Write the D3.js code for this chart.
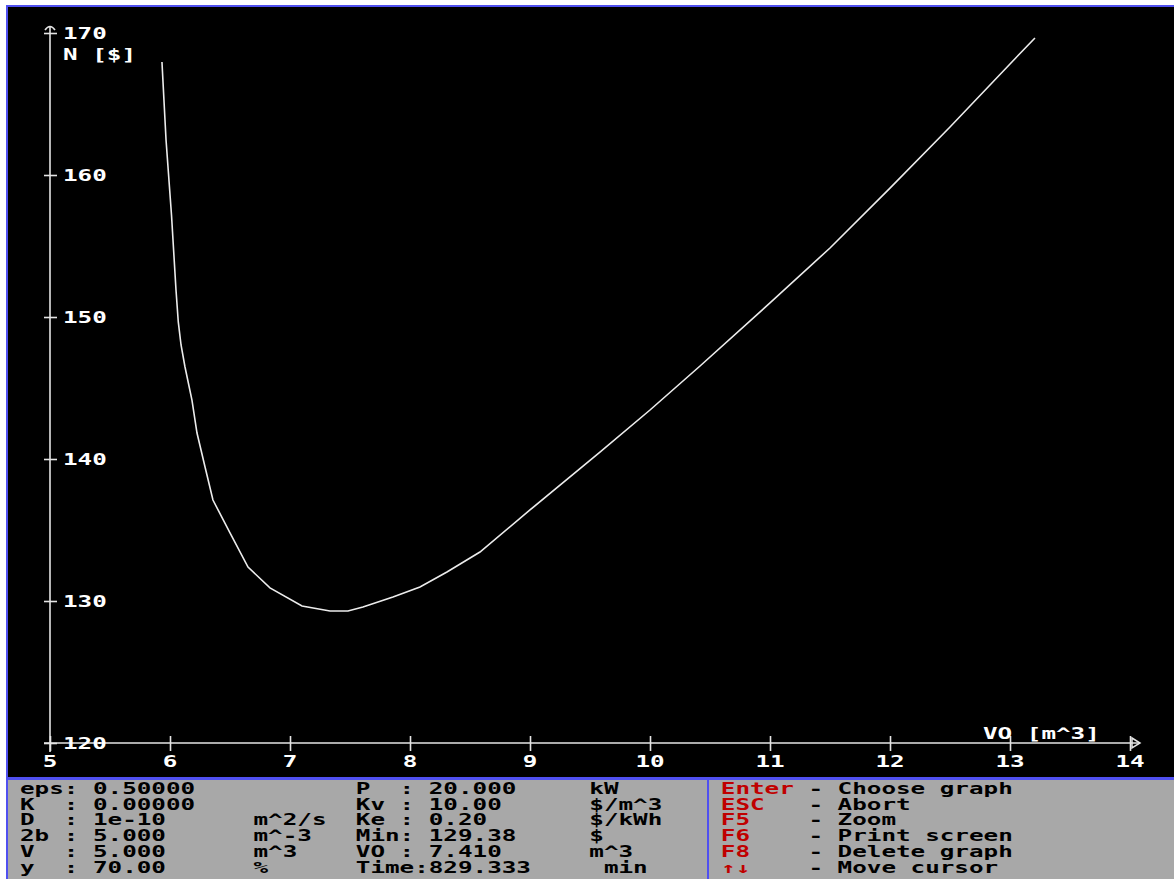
<!DOCTYPE html>
<html>
<head>
<meta charset="utf-8">
<script src="https://cdn.jsdelivr.net/npm/d3@7"></script>
<style>
  html, body { margin: 0; padding: 0; background: #ffffff; }
  svg { display: block; }
  text { font-family: "DejaVu Sans Mono", "Liberation Mono", monospace; font-weight: bold; white-space: pre; }
</style>
</head>
<body>
<svg id="chart" width="1174" height="879"></svg>
<script>
// Cost curve N(V0): volume [m^3] vs total cost [$]
const volume = [5.933, 5.967, 6.0125, 6.05, 6.069, 6.092, 6.125, 6.183, 6.225, 6.292, 6.358, 6.5, 6.65, 6.833, 7.1, 7.333, 7.483, 7.608, 7.858, 8.083, 8.308, 8.583, 9.0, 9.583, 10.0, 10.417, 11.0, 11.5, 12.0, 12.5, 13.0, 13.208];
const cost   = [167.96, 162.46, 157.18, 151.90, 149.65, 148.03, 146.48, 144.15, 141.83, 139.44, 137.11, 134.79, 132.39, 130.92, 129.65, 129.30, 129.30, 129.58, 130.28, 130.99, 132.04, 133.45, 136.41, 140.49, 143.45, 146.55, 150.99, 154.86, 159.08, 163.38, 167.82, 169.65];

const xTicks = [5, 6, 7, 8, 9, 10, 11, 12, 13, 14];
const yTicks = [120, 130, 140, 150, 160, 170];
const xTitle = "VO [m^3]";
const yTitle = "N [$]";

// Parameter block
const paramLabels1 = ["eps", "K", "D", "2b", "V", "y"];
const paramValues1 = ["0.50000", "0.00000", "1e-10", "5.000", "5.000", "70.00"];
const paramUnits1  = ["", "", "m^2/s", "m^-3", "m^3", "%"];
const paramLabels2 = ["P", "Kv", "Ke", "Min", "VO", "Time"];
const paramValues2 = ["20.000", "10.00", "0.20", "129.38", "7.410", "829.333"];
const paramUnits2  = ["kW", "$/m^3", "$/kWh", "$", "m^3", " min"];
const keyNames = ["Enter", "ESC", "F5", "F6", "F8", "\u2191\u2193"];
const keyActions = ["Choose graph", "Abort", "Zoom", "Print screen", "Delete graph", "Move cursor"];

const W = 1174, H = 879;
const CHAR_W = 14.6, FONT = 15, SX = CHAR_W / (FONT * 0.602);
const BLUE = "#5050f0", GRAY = "#a8a8a8", RED = "#c00000", FG = "#e4e4e4";

const svg = d3.select("#chart");

// Screen frame: black plotting screen and grey status panel
svg.append("rect").attr("x", 0).attr("y", 0).attr("width", W).attr("height", H).attr("fill", "#ffffff");
svg.append("rect").attr("x", 6).attr("y", 5).attr("width", W - 6).attr("height", H - 5).attr("fill", BLUE);
svg.append("rect").attr("x", 8).attr("y", 7).attr("width", W - 8).attr("height", 770).attr("fill", "#000000");
svg.append("rect").attr("x", 8).attr("y", 780).attr("width", W - 8).attr("height", H - 780).attr("fill", GRAY);
svg.append("rect").attr("x", 707).attr("y", 780).attr("width", 2).attr("height", H - 780).attr("fill", BLUE);

function label(g, str, x, y, fill, anchor) {
  return g.append("text")
    .attr("transform", `translate(${x},${y}) scale(${SX},1)`)
    .attr("font-size", FONT)
    .attr("text-anchor", anchor || "start")
    .attr("fill", fill)
    .text(str);
}

// Scales
const x = d3.scaleLinear().domain([5, 14]).range([50, 1130]);
const y = d3.scaleLinear().domain([120, 170]).range([743, 33]);

const plot = svg.append("g");

// Axes
const xAxis = d3.axisBottom(x).tickValues(xTicks).tickSize(8).tickFormat("");
const gx = plot.append("g").attr("transform", `translate(0,${y(120)})`).call(xAxis);
gx.select(".domain").remove();
gx.selectAll(".tick line").attr("y1", -7).attr("y2", 8).attr("stroke", FG).attr("stroke-width", 1.6);

const yAxis = d3.axisLeft(y).tickValues(yTicks).tickSize(6).tickFormat("");
const gy = plot.append("g").attr("transform", `translate(${x(5)},0)`).call(yAxis);
gy.select(".domain").remove();
gy.selectAll(".tick line").attr("x1", -6).attr("x2", 7).attr("stroke", FG).attr("stroke-width", 1.6);

// Axis lines with arrowheads
plot.append("line").attr("x1", 44).attr("x2", 1140).attr("y1", y(120)).attr("y2", y(120))
  .attr("stroke", FG).attr("stroke-width", 1.6);
plot.append("line").attr("x1", x(5)).attr("x2", x(5)).attr("y1", 26).attr("y2", 752)
  .attr("stroke", FG).attr("stroke-width", 1.6);
plot.append("path")
  .attr("d", `M1132,${y(120) - 5} L1140,${y(120)} L1132,${y(120) + 5} Z`)
  .attr("fill", "none").attr("stroke", FG).attr("stroke-width", 1.5);
plot.append("path")
  .attr("d", `M${x(5) - 5},30 Q${x(5)},23 ${x(5) + 5},30`)
  .attr("fill", "none").attr("stroke", FG).attr("stroke-width", 1.6);

// Tick labels
xTicks.forEach(v => label(plot, String(v), x(v), 767, "#ffffff", "middle"));
yTicks.forEach(v => label(plot, String(v), 63, y(v) + 6, "#ffffff"));
label(plot, yTitle, 63, 60, "#ffffff");
label(plot, xTitle, 983, 739, "#ffffff");

// Cost curve
const pts = volume.map((v, i) => [v, cost[i]]);
plot.append("path")
  .datum(pts)
  .attr("d", d3.line().x(d => x(d[0])).y(d => y(d[1])))
  .attr("fill", "none")
  .attr("stroke", "#ececec")
  .attr("stroke-width", 1.6);

// Status panel text
const panel = svg.append("g");
const rowY = i => 794 + i * 15.7;
const colX = c => 20 + c * CHAR_W;

function paramLine(lbl, val, unit) {
  let s = lbl.padEnd(3) + ":";
  if (s.length === 4) s += " ";
  s += val;
  return s.padEnd(16) + unit;
}

paramLabels1.forEach((l, i) => label(panel, paramLine(l, paramValues1[i], paramUnits1[i]), colX(0), rowY(i), "#000000"));
paramLabels2.forEach((l, i) => label(panel, paramLine(l, paramValues2[i], paramUnits2[i]), colX(23), rowY(i), "#000000"));
keyNames.forEach((k, i) => {
  label(panel, k, colX(48), rowY(i), RED);
  label(panel, "- " + keyActions[i], colX(54), rowY(i), "#000000");
});
</script>
</body>
</html>
